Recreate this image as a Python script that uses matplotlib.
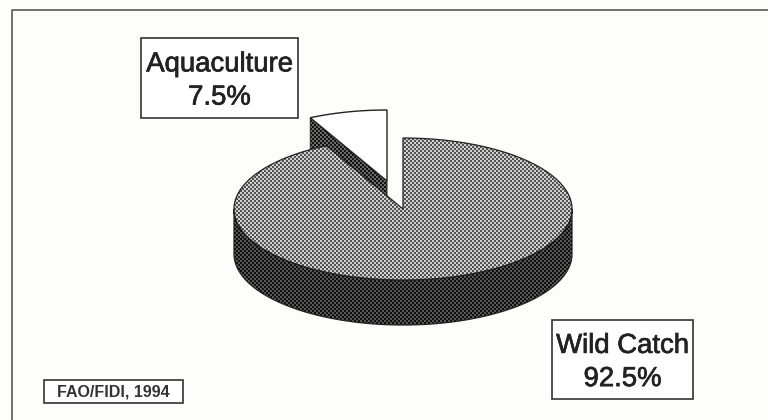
import numpy as np
import matplotlib
matplotlib.use('Agg')
import matplotlib.pyplot as plt
import matplotlib.patheffects as pe
from matplotlib.patches import Polygon, Rectangle

plt.rcParams['font.family'] = ['Liberation Sans', 'DejaVu Sans']

labels = ['Aquaculture', 'Wild Catch']
shares = [7.5, 92.5]
source = 'FAO/FIDI, 1994'

# everything is placed in image pixels
cx, cy = 403, 209
rx, ry = 169, 71
depth = 45
explode = (-16, -28)

fig = plt.figure(figsize=(7.68, 4.2), dpi=100, facecolor='#fdfdfb')
ax = fig.add_axes([0, 0, 1, 1])
ax.set_xlim(0, 768)
ax.set_ylim(420, 0)
ax.set_axis_off()


def arc(a0, a1, dx=0, dy=0):
    # angles measured from 12 o'clock going counter clockwise
    t = np.radians(np.linspace(a0, a1, 200))
    return np.column_stack([cx - rx * np.sin(t) + dx, cy - ry * np.cos(t) + dy])


def halftone(points, light, dark, z, period=4):
    # screen-print look: checker of two greys clipped to the polygon
    yy, xx = np.mgrid[0:420, 0:768]
    mask = ((xx // (period // 2)) + (yy // (period // 2))) % 2
    tex = np.where(mask == 0, light, dark)
    poly = Polygon(points, closed=True, facecolor='none', edgecolor='none', zorder=z)
    ax.add_patch(poly)
    im = ax.imshow(tex, cmap='gray', vmin=0, vmax=1, extent=(0, 768, 420, 0),
                   interpolation='bilinear', aspect='auto', zorder=z)
    im.set_clip_path(poly)


def outline(points, z, lw=0.9):
    ax.add_patch(Polygon(points, closed=True, facecolor='none', edgecolor='#222222', linewidth=lw, zorder=z))


# page frame, only top and left are visible on the scan
ax.plot([12, 12, 768], [420, 10, 10], color='#666666', lw=1.3)

aqua_angle = shares[0] / 100 * 360
ex, ey = explode

# pulled out slice: cut face first, then white top
corner = arc(aqua_angle, aqua_angle)[0] + explode
apex = np.array([cx + ex, cy + ey])
face = [corner, apex, apex + (0, depth), corner + (0, depth)]
halftone(face, 0.42, 0.07, 2)
outline(face, 2.1, 0.7)
top_aqua = np.vstack([[apex], arc(0, aqua_angle, ex, ey)])
ax.add_patch(Polygon(top_aqua, closed=True, facecolor='white', edgecolor='#222222', linewidth=1.0, zorder=3))

# main pie: side wall, then top with the notch
side = np.vstack([arc(90, 270), arc(90, 270, 0, depth)[::-1]])
halftone(side, 0.34, 0.06, 4)
outline(side, 4.1)
top_main = np.vstack([[(cx, cy)], arc(aqua_angle, 360)])
halftone(top_main, 0.82, 0.32, 5)
outline(top_main, 5.1)

thick = [pe.withStroke(linewidth=0.5, foreground='#222222')]
boxes = [(141, 38, 157, 80), (552, 320, 141, 79)]
for (x, y, w, h), name, val in zip(boxes, labels, shares):
    ax.add_patch(Rectangle((x, y), w, h, facecolor='white', edgecolor='#333333', linewidth=1.2, zorder=6))
    ax.text(x + w / 2, y + h / 2 + 3, f'{name}\n{val}%', ha='center', va='center', fontsize=19.8,
            color='#222222', linespacing=1.36, zorder=7, path_effects=thick)

ax.add_patch(Rectangle((44, 380), 139, 23, facecolor='white', edgecolor='#333333', linewidth=1.2, zorder=6))
ax.text(113.5, 392, source, ha='center', va='center', fontsize=11.5, fontweight='bold', color='#333333', zorder=7)

ax.set_xlim(0, 768)
ax.set_ylim(420, 0)
fig.savefig('out.png', dpi=100, facecolor=fig.get_facecolor())
